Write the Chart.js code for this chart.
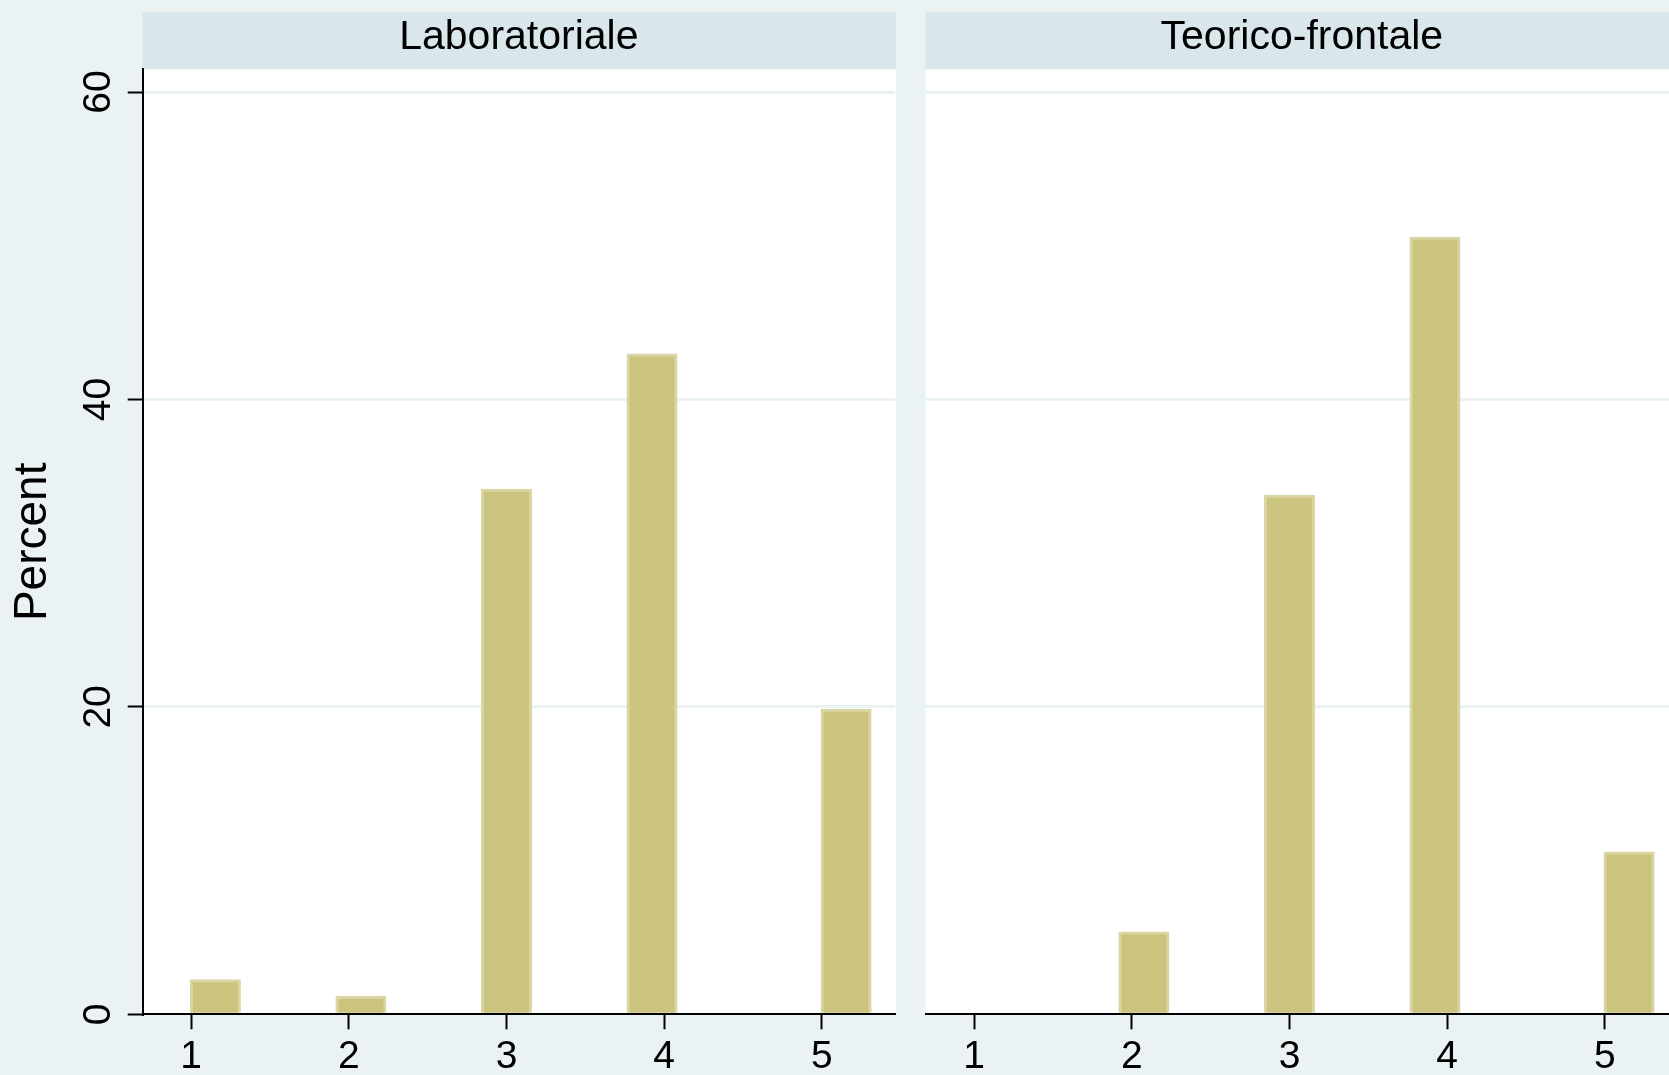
<!DOCTYPE html>
<html>
<head>
<meta charset="utf-8">
<title>Percent by teaching style</title>
<script src="https://cdn.jsdelivr.net/npm/chart.js@4.4.1/dist/chart.umd.min.js"></script>
<style>
  html, body { margin: 0; padding: 0; overflow: hidden; background: #eaf2f3; width: 1669px; height: 1075px; }
  canvas { position: absolute; top: 0; }
  #panelLeft { left: 0; }
  #panelRight { left: 896px; }
</style>
</head>
<body>
<canvas id="panelLeft" width="896" height="1075"></canvas>
<canvas id="panelRight" width="783" height="1075"></canvas>
<script>
// panel headers
const panelTitles = ['Laboratoriale', 'Teorico-frontale'];

// histogram bin midpoints (bin width 4/13 starting at 1)
const binMids = [1.154, 1.462, 1.769, 2.077, 2.385, 2.692, 3.000, 3.308, 3.615, 3.923, 4.231, 4.538, 4.846, 5.154];

// percent per bin
const labPercent = [2.2, 0, 0, 1.1, 0, 0, 34.1, 0, 0, 42.9, 0, 0, 0, 19.8];
const teoPercent = [0, 0, 0, 5.3, 0, 0, 33.7, 0, 0, 50.5, 0, 0, 0, 10.5];

// axes
const xTicks = [1, 2, 3, 4, 5];
const yTicks = [0, 20, 40, 60];
const xRange = [0.693, 5.464];
const yRange = [0, 61.48];

Chart.defaults.font.family = "'Liberation Sans', Arial, sans-serif";
Chart.defaults.color = '#000';

// header strip + white plot region
const panelBg = {
  id: 'panelBg',
  beforeDraw(chart) {
    const { ctx, chartArea: a } = chart;
    const t = chart.titleBlock;
    ctx.save();
    ctx.fillStyle = '#d9e6eb';
    ctx.fillRect(a.left, t.top, a.right - a.left + 1, a.top - t.top);
    ctx.fillStyle = '#ffffff';
    ctx.fillRect(a.left, a.top, a.right - a.left + 1, a.bottom - a.top);
    ctx.restore();
  }
};

function makePanel(id, title, values, withYAxis) {
  const yAxis = {
    type: 'linear',
    min: yRange[0],
    max: yRange[1],
    afterBuildTicks: s => { s.ticks = yTicks.map(v => ({ value: v })); },
    afterFit: s => { s.width = withYAxis ? 142.7 : 0; },
    grid: {
      color: c => (c.tick && c.tick.value === 0) ? 'rgba(0,0,0,0)' : '#eaf2f3',
      lineWidth: 3,
      drawTicks: withYAxis,
      tickLength: 15,
      tickColor: '#000',
      tickWidth: 2
    },
    border: { display: withYAxis, color: '#000', width: 2 },
    ticks: {
      display: withYAxis,
      minRotation: 90,
      maxRotation: 90,
      crossAlign: 'center',
      padding: 7,
      font: { size: 39 },
      callback: v => String(v)
    },
    title: {
      display: withYAxis,
      text: 'Percent',
      font: { size: 46 },
      padding: { top: 6, bottom: 0 }
    }
  };

  return new Chart(document.getElementById(id), {
    type: 'bar',
    data: {
      datasets: [{
        data: binMids.map((x, i) => ({ x: x, y: values[i] })),
        backgroundColor: '#cbc47f',
        borderColor: '#dad5a3',
        borderWidth: 3,
        borderSkipped: 'start',
        inflateAmount: 1.3,
        barPercentage: 1,
        categoryPercentage: 1
      }]
    },
    options: {
      responsive: false,
      animation: false,
      layout: { padding: { left: withYAxis ? 0 : 29.7, right: 1, top: 12, bottom: 0 } },
      plugins: {
        legend: { display: false },
        tooltip: { enabled: false },
        title: {
          display: true,
          text: title,
          fullSize: false,
          color: '#000',
          font: { size: 41, weight: 'normal' },
          padding: { top: 1.5, bottom: 6.6 }
        }
      },
      scales: {
        x: {
          type: 'linear',
          min: xRange[0],
          max: xRange[1],
          offset: false,
          afterBuildTicks: s => { s.ticks = xTicks.map(v => ({ value: v })); },
          afterFit: s => { s.height = 60.7; },
          grid: {
            offset: false,
            drawOnChartArea: false,
            drawTicks: true,
            tickLength: 15,
            tickColor: '#000',
            tickWidth: 2
          },
          border: { color: '#000', width: 2 },
          ticks: {
            padding: 5,
            maxRotation: 0,
            font: { size: 39 },
            callback: v => String(v)
          }
        },
        y: yAxis
      }
    },
    plugins: [panelBg]
  });
}

makePanel('panelLeft', panelTitles[0], labPercent, true);
makePanel('panelRight', panelTitles[1], teoPercent, false);
</script>
</body>
</html>
